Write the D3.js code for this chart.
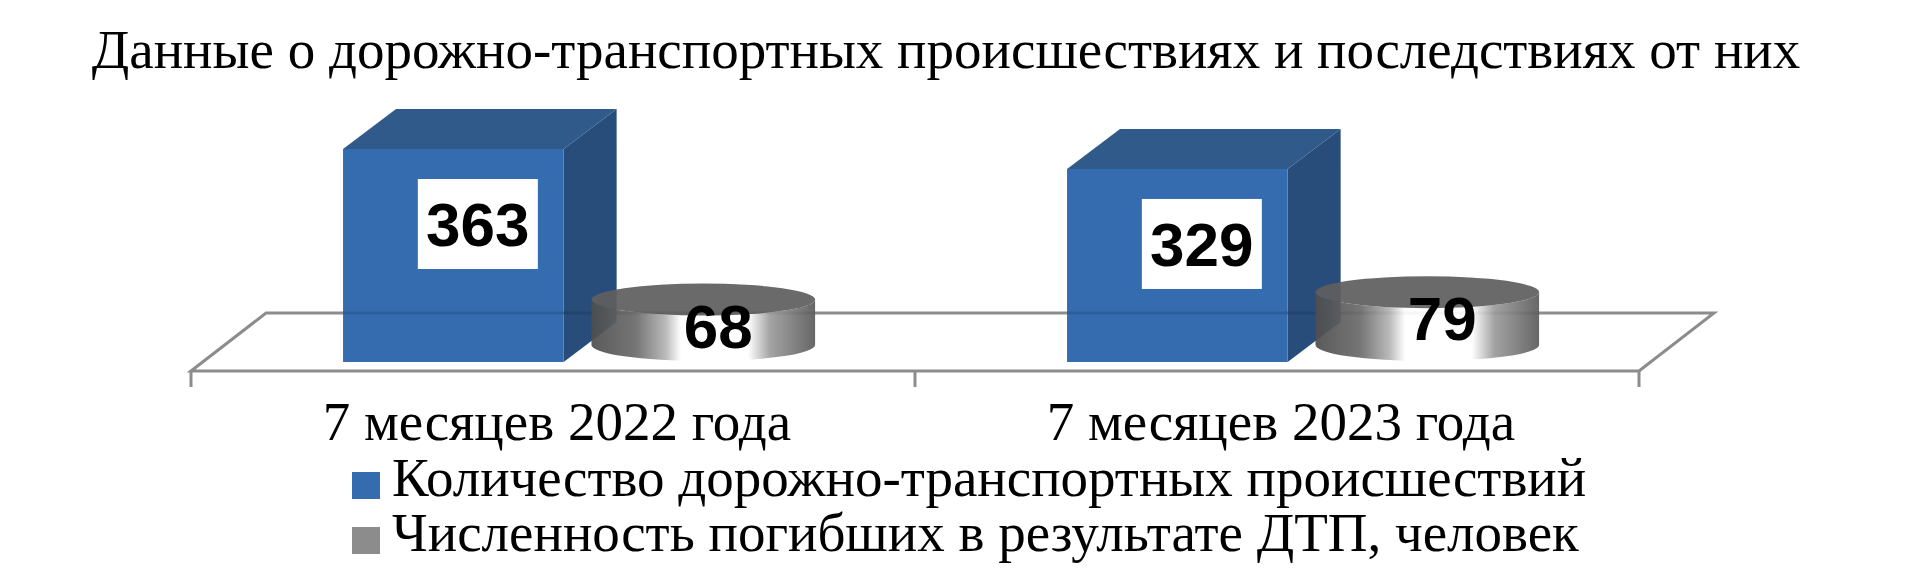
<!DOCTYPE html>
<html><head><meta charset="utf-8">
<script src="https://cdn.jsdelivr.net/npm/d3@7/dist/d3.min.js"></script>
<style>html,body{margin:0;padding:0;background:#fff;}svg{display:block;}</style>
</head><body>
<svg id="chart" width="1911" height="580"></svg>
<script>
const titleText = "Данные о дорожно-транспортных происшествиях и последствиях от них";
const categories = ["7 месяцев 2022 года", "7 месяцев 2023 года"];
const seriesNames = ["Количество дорожно-транспортных происшествий", "Численность погибших в результате ДТП, человек"];
const accidents = [363, 329];
const deaths = [68, 79];

const W = 1911, H = 580;
const svg = d3.select("#chart");
const defs = svg.append("defs");

const serif = "'Liberation Serif','Times New Roman',serif";
const sans = "'Liberation Sans',Arial,sans-serif";

// floor geometry
const floorFront = 371, floorBack = 313, depthX = 75;
const x0 = d3.scaleBand().domain(categories).range([191, 1639]).padding(0);
const bw = x0.bandwidth();
const x1 = d3.scaleBand().domain(seriesNames).range([bw * 0.21, bw * 0.862]).paddingInner(0.1);
const y = d3.scaleLinear().domain([0, 400]).range([0, 234.7]);
const cubeBase = 362, cubeDX = 53, cubeDY = 40;
const cylPersp = 1.14, cylRy = 16, cylBaseBottom = 361;

// gradient for cylinders
const g = defs.append("linearGradient").attr("id", "cylGrad").attr("x1", "0").attr("x2", "1").attr("y1", "0").attr("y2", "0");
[[0, "#4e4e4e"], [0.2, "#6c6c6c"], [0.33, "#b4b4b4"], [0.4, "#ffffff"], [0.7, "#ffffff"], [0.8, "#9c9c9c"], [1, "#5c5c5c"]]
  .forEach(([o, c]) => g.append("stop").attr("offset", o).attr("stop-color", c));

// title
svg.append("text").attr("x", 946).attr("y", 68).attr("text-anchor", "middle")
  .attr("font-family", serif).attr("font-size", 55).attr("fill", "#000").text(titleText);

// floor
const fx0 = x0.range()[0], fx1 = x0.range()[1];
const floor = svg.append("g").attr("stroke", "#8c8c8c").attr("stroke-width", 3).attr("fill", "none");
floor.append("path").attr("d", `M${fx0},${floorFront}L${fx0 + depthX},${floorBack}L${fx1 + depthX},${floorBack}L${fx1},${floorFront}Z`).attr("stroke-linejoin", "miter");
const tickXs = categories.map(c => x0(c)).concat([fx1]);
floor.selectAll("line.tick").data(tickXs).join("line").attr("class", "tick")
  .attr("x1", d => d).attr("x2", d => d).attr("y1", floorFront).attr("y2", floorFront + 16);

// cubes
const cubes = svg.append("g");
categories.forEach((c, i) => {
  const left = x0(c) + x1(seriesNames[0]);
  const w = x1.bandwidth() - 3;
  const top = cubeBase - y(accidents[i]);
  const gc = cubes.append("g");
  gc.append("path").attr("fill", "#294d7b")
    .attr("d", `M${left + w},${top}L${left + w + cubeDX},${top - cubeDY}L${left + w + cubeDX},${cubeBase - cubeDY}L${left + w},${cubeBase}Z`);
  gc.append("path").attr("fill", "#2f5a8a")
    .attr("d", `M${left},${top}L${left + cubeDX},${top - cubeDY}L${left + w + cubeDX},${top - cubeDY}L${left + w},${top}Z`);
  gc.append("rect").attr("x", left).attr("y", top).attr("width", w).attr("height", cubeBase - top).attr("fill", "#356cb0");
  // floor line seen through the cube
  svg.append("line").attr("x1", left).attr("x2", left + w + cubeDX).attr("y1", floorBack).attr("y2", floorBack)
    .attr("stroke", "#000").attr("stroke-opacity", 0.12).attr("stroke-width", 3);
  // label
  const cx = left + w / 2 + cubeDX / 2 - 2;
  const cy = top + 75;
  svg.append("rect").attr("x", cx - 60).attr("y", cy - 45).attr("width", 120).attr("height", 90).attr("fill", "#fff");
  svg.append("text").attr("x", cx).attr("y", cy).attr("dy", "0.36em").attr("text-anchor", "middle")
    .attr("font-family", sans).attr("font-weight", "bold").attr("font-size", 62).attr("fill", "#000").text(accidents[i]);
});

// cylinders
categories.forEach((c, i) => {
  const cx = x0(c) + x1(seriesNames[1]) + x1.bandwidth() / 2;
  const rx = x1.bandwidth() / 2;
  const botC = cylBaseBottom - cylRy;
  const topC = botC - y(deaths[i]) * cylPersp;
  const gc = svg.append("g").attr("opacity", 0.93);
  gc.append("path").attr("fill", "url(#cylGrad)")
    .attr("d", `M${cx - rx},${topC}L${cx - rx},${botC}A${rx},${cylRy} 0 0 0 ${cx + rx},${botC}L${cx + rx},${topC}A${rx},${cylRy} 0 0 1 ${cx - rx},${topC}Z`);
  gc.append("ellipse").attr("cx", cx).attr("cy", topC).attr("rx", rx).attr("ry", cylRy).attr("fill", "#5f5f5f");
  svg.append("text").attr("x", cx + 15).attr("y", topC + 26).attr("dy", "0.36em").attr("text-anchor", "middle")
    .attr("font-family", sans).attr("font-weight", "bold").attr("font-size", 62).attr("fill", "#000").text(deaths[i]);
});

// category labels
svg.selectAll("text.cat").data(categories).join("text").attr("class", "cat")
  .attr("x", d => x0(d) + bw / 2 + 4).attr("y", 440).attr("text-anchor", "middle")
  .attr("font-family", serif).attr("font-size", 55).attr("fill", "#000").text(d => d);

// legend
const legColors = ["#356cb0", "#8c8c8c"];
const leg = svg.selectAll("g.leg").data(seriesNames).join("g").attr("class", "leg")
  .attr("transform", (d, i) => `translate(352,${472 + i * 55})`);
leg.append("rect").attr("width", 28).attr("height", 27).attr("fill", (d, i) => legColors[i]);
leg.append("text").attr("x", 40).attr("y", 24).attr("font-family", serif).attr("font-size", 55).attr("fill", "#000").text(d => d);
</script>
</body></html>
